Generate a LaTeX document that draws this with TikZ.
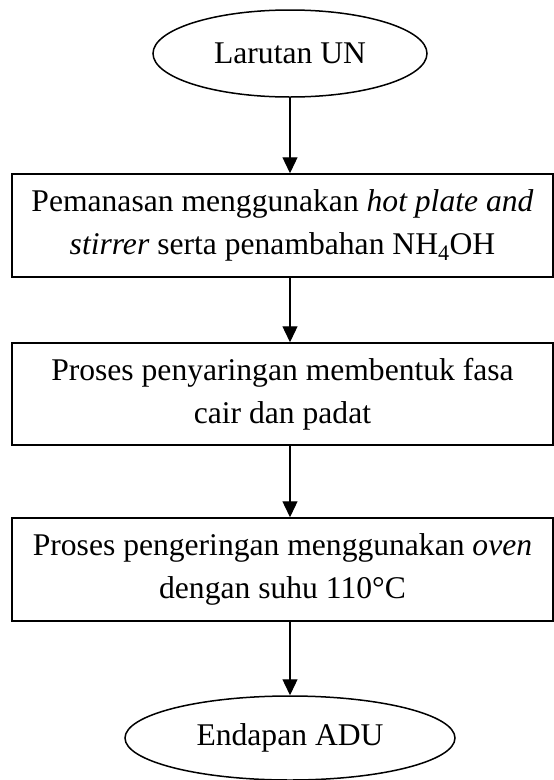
\documentclass[tikz,border=0pt]{standalone}
\usepackage{fontspec}
\setmainfont{Liberation Serif}
\usetikzlibrary{shapes.geometric,arrows.meta}
\begin{document}
\begin{tikzpicture}[x=1pt,y=-1pt,
 every node/.style={font=\fontsize{31.6}{43}\selectfont},
 procbox/.style={draw,line width=1.5pt,rectangle,minimum width=541pt,align=center,inner sep=0pt},
 term/.style={draw,line width=1.5pt,ellipse,inner sep=0pt},
 flow/.style={line width=1.3pt,-{Triangle[length=16pt,width=15pt]}}]
\useasboundingbox (0,0) rectangle (554,780);
\node[term,minimum width=274pt,minimum height=87pt] (e1) at (290,53.5) {Larutan UN};
\node[procbox,minimum height=103pt] (b1) at (282.5,225.5) {Pemanasan menggunakan \textit{hot plate and}\\\textit{stirrer} serta penambahan NH\textsubscript{4}OH};
\node[procbox,minimum height=102pt] (b2) at (282.5,394) {Proses penyaringan membentuk fasa\\cair dan padat};
\node[procbox,minimum height=103pt] (b3) at (282.5,569.5) {Proses pengeringan menggunakan \textit{oven}\\dengan suhu 110°C};
\node[term,minimum width=330pt,minimum height=84pt] (e2) at (290,738) {Endapan ADU};
\draw[flow] (e1.south) -- (e1.south |- b1.north);
\draw[flow] (b1.south -| e1.south) -- (b2.north -| e1.south);
\draw[flow] (b2.south -| e1.south) -- (b3.north -| e1.south);
\draw[flow] (b3.south -| e1.south) -- (e2.north);
\end{tikzpicture}
\end{document}
